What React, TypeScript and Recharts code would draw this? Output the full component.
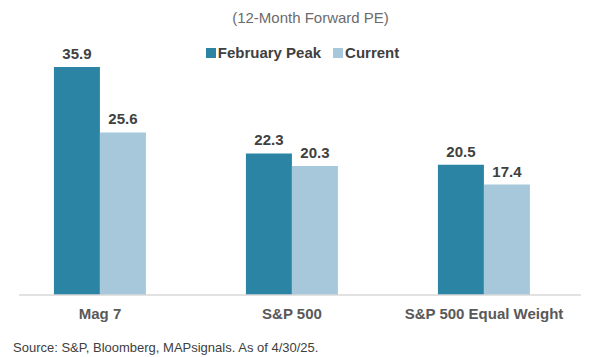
import React from "react";
import { BarChart, Bar, XAxis, YAxis, LabelList, ReferenceLine } from "recharts";

const categories = ["Mag 7", "S&P 500", "S&P 500 Equal Weight"];
const februaryPeak = [35.9, 22.3, 20.5];
const current = [25.6, 20.3, 17.4];

const data = categories.map((name, i) => ({
  name,
  februaryPeak: februaryPeak[i],
  current: current[i],
}));

const FONT = '"Liberation Sans", Arial, sans-serif';
const DARK = "#2C84A4";
const LIGHT = "#A6C8DA";

const legendItems = [
  { label: "February Peak", color: DARK },
  { label: "Current", color: LIGHT },
];

function LegendContent() {
  return (
    <div style={{ display: "flex", justifyContent: "center", gap: 12, fontFamily: FONT }}>
      {legendItems.map((it) => (
        <div key={it.label} style={{ display: "flex", alignItems: "center" }}>
          <span style={{ width: 10, height: 10, background: it.color, display: "inline-block", marginRight: 2 }} />
          <span style={{ fontSize: 15, fontWeight: 700, color: "#404040" }}>{it.label}</span>
        </div>
      ))}
    </div>
  );
}

export default function App() {
  return (
    <div
      style={{
        position: "fixed",
        left: 0,
        top: 0,
        width: 605,
        height: 357,
        background: "#FFFFFF",
        fontFamily: FONT,
      }}
    >
      <div
        style={{
          position: "absolute",
          top: 9,
          left: 8,
          width: 605,
          textAlign: "center",
          fontSize: 15,
          color: "#6B6B6B",
        }}
      >
        (12-Month Forward PE)
      </div>
      <div style={{ position: "absolute", top: 44, left: 0, width: 605, zIndex: 1 }}>
        <LegendContent />
      </div>
      <BarChart
        width={605}
        height={357}
        data={data}
        margin={{ top: 41, right: 25, bottom: 32, left: 4 }}
        barCategoryGap="26%"
        barGap={0}
      >
        <YAxis hide domain={[0, 40]} />
        <XAxis
          dataKey="name"
          axisLine={false}
          tickLine={false}
          height={30}
          tickSize={0}
          tickMargin={13}
          tick={{ fontSize: 15, fontWeight: 700, fill: "#595959", fontFamily: FONT }}
        />
        <Bar dataKey="februaryPeak" name="February Peak" fill={DARK} isAnimationActive={false}>
          <LabelList
            dataKey="februaryPeak"
            position="top"
            offset={8}
            style={{ fontSize: 15, fontWeight: 700, fill: "#404040", fontFamily: FONT }}
          />
        </Bar>
        <Bar dataKey="current" name="Current" fill={LIGHT} isAnimationActive={false}>
          <LabelList
            dataKey="current"
            position="top"
            offset={8}
            style={{ fontSize: 15, fontWeight: 700, fill: "#404040", fontFamily: FONT }}
          />
        </Bar>
        <ReferenceLine
          y={0}
          shape={(p: any) => (
            <line x1={19} y1={p.y1} x2={581} y2={p.y2} stroke="#D9D9D9" strokeWidth={1.5} />
          )}
        />
      </BarChart>
      <div
        style={{
          position: "absolute",
          top: 340,
          left: 13,
          fontSize: 13,
          color: "#404040",
        }}
      >
        Source: S&amp;P, Bloomberg, MAPsignals. As of 4/30/25.
      </div>
    </div>
  );
}
